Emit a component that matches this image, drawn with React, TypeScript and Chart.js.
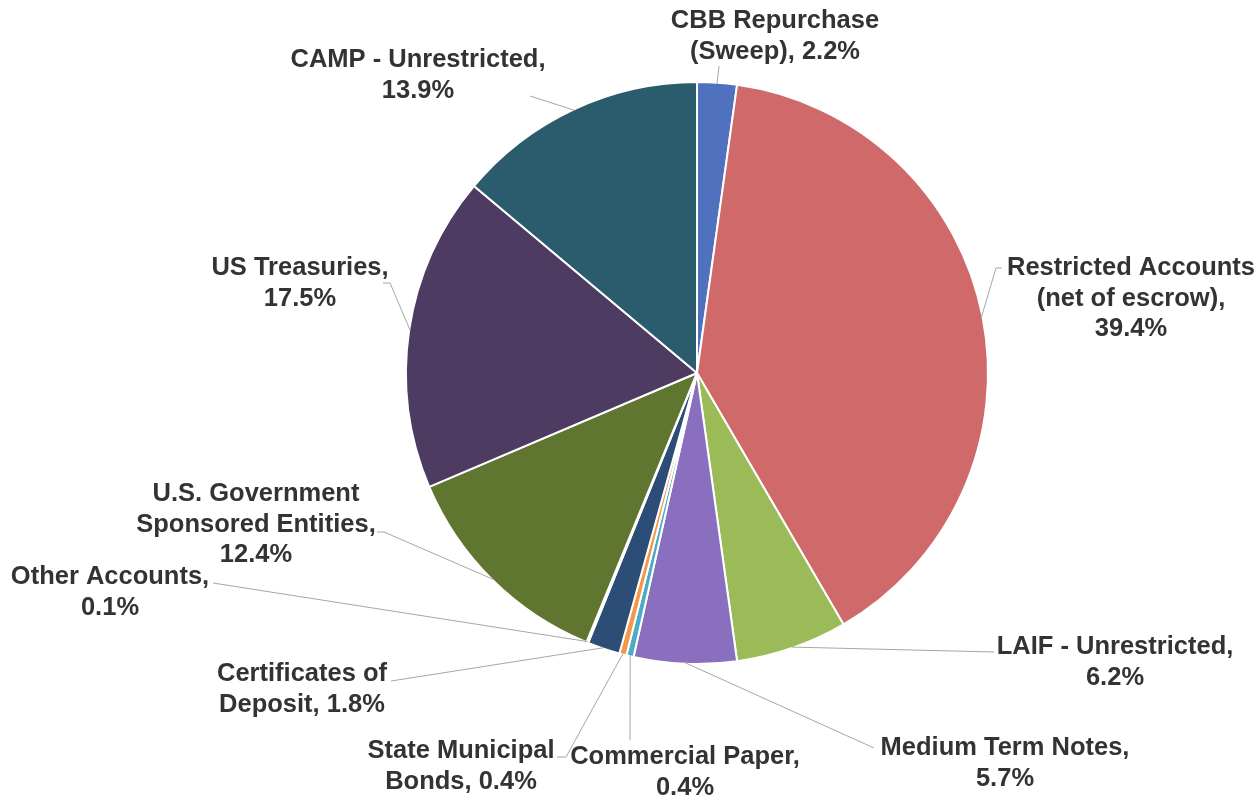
import React, { useEffect, useRef } from "react";
import { Chart, registerables } from "chart.js";

Chart.register(...registerables);

const categories = [
  "CBB Repurchase (Sweep)",
  "Restricted Accounts (net of escrow)",
  "LAIF - Unrestricted",
  "Medium Term Notes",
  "Commercial Paper",
  "State Municipal Bonds",
  "Certificates of Deposit",
  "Other Accounts",
  "U.S. Government Sponsored Entities",
  "US Treasuries",
  "CAMP - Unrestricted",
];

const values = [2.2, 39.4, 6.2, 5.7, 0.4, 0.4, 1.8, 0.1, 12.4, 17.5, 13.9];

const colors = [
  "#4f71be",
  "#d0696a",
  "#9bbb59",
  "#8a6fbf",
  "#4aacc6",
  "#f79646",
  "#2c4d75",
  "#772c2a",
  "#5f7530",
  "#4d3b62",
  "#2a5c6d",
];

// label text wrapping ({v} is replaced by the value)
const labelLines: string[][] = [
  ["CBB Repurchase", "(Sweep), {v}"],
  ["Restricted Accounts", "(net of escrow),", "{v}"],
  ["LAIF - Unrestricted,", "{v}"],
  ["Medium Term Notes,", "{v}"],
  ["Commercial Paper,", "{v}"],
  ["State Municipal", "Bonds, {v}"],
  ["Certificates of", "Deposit, {v}"],
  ["Other Accounts,", "{v}"],
  ["U.S. Government", "Sponsored Entities,", "{v}"],
  ["US Treasuries,", "{v}"],
  ["CAMP - Unrestricted,", "{v}"],
];

// label layout: text centre x, first line y, leader start point(s)
const labelLayout = [
  { cx: 775, y: 21, lead: [[719, 66]] },
  { cx: 1131, y: 268, lead: [[1002, 268], [996, 268]] },
  { cx: 1115, y: 647, lead: [[994, 652]] },
  { cx: 1005, y: 748, lead: [[874, 748]] },
  { cx: 685, y: 757, lead: [[630, 740]] },
  { cx: 461, y: 751, lead: [[557, 757], [566, 757]] },
  { cx: 302, y: 674, lead: [[391, 681]] },
  { cx: 110, y: 577, lead: [[213, 583]] },
  { cx: 256, y: 494, lead: [[377, 532], [384, 532]] },
  { cx: 300, y: 268, lead: [[383, 283], [390, 283]] },
  { cx: 418, y: 60, lead: [[530, 96]] },
];

const labelPlugin = {
  id: "outsideLabels",
  afterDraw(chart: any) {
    const ctx = chart.ctx;
    const meta = chart.getDatasetMeta(0);
    ctx.save();
    meta.data.forEach((arc: any, i: number) => {
      const { x, y, startAngle, endAngle, outerRadius } = arc.getProps(
        ["x", "y", "startAngle", "endAngle", "outerRadius"],
        true
      );
      const mid = (startAngle + endAngle) / 2;
      const ex = x + Math.cos(mid) * (outerRadius - 1);
      const ey = y + Math.sin(mid) * (outerRadius - 1);
      const lay = labelLayout[i];
      ctx.beginPath();
      ctx.strokeStyle = "#a6a6a6";
      ctx.lineWidth = 1;
      lay.lead.forEach((p, k) => {
        if (k === 0) ctx.moveTo(p[0], p[1]);
        else ctx.lineTo(p[0], p[1]);
      });
      ctx.lineTo(ex, ey);
      ctx.stroke();

      ctx.fillStyle = "#333333";
      ctx.font = "bold 25.5px 'Liberation Sans', Arial, sans-serif";
      ctx.textAlign = "center";
      ctx.textBaseline = "middle";
      const v = values[i].toFixed(1) + "%";
      labelLines[i].forEach((ln, k) => {
        ctx.fillText(ln.replace("{v}", v), lay.cx, lay.y + k * 30.5);
      });
    });
    ctx.restore();
  },
};

export default function App() {
  const ref = useRef<HTMLCanvasElement | null>(null);
  useEffect(() => {
    document.body.style.margin = "0";
    const canvas = ref.current!;
    const chart = new Chart(canvas, {
      type: "pie",
      data: {
        labels: categories,
        datasets: [
          {
            data: values,
            backgroundColor: colors,
            borderColor: "#ffffff",
            borderWidth: 2,
            hoverOffset: 0,
          },
        ],
      },
      options: {
        responsive: false,
        animation: false,
        layout: { padding: { top: 81, bottom: 133, left: 300, right: 166 } },
        plugins: {
          legend: { display: false },
          tooltip: { enabled: false },
        },
      },
      plugins: [labelPlugin],
    });
    return () => chart.destroy();
  }, []);
  return (
    <div style={{ position: "absolute", left: 0, top: 0, width: 1260, height: 798, background: "#fff" }}>
      <canvas ref={ref} width={1260} height={798} />
    </div>
  );
}
